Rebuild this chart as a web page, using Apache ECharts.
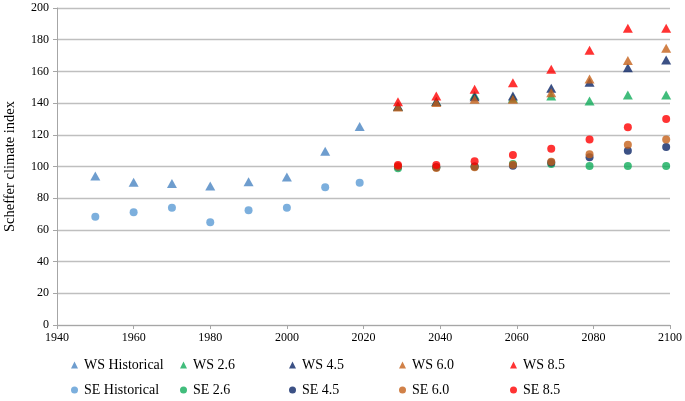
<!DOCTYPE html>
<html>
<head>
<meta charset="utf-8">
<script src="https://cdn.jsdelivr.net/npm/echarts@6/dist/echarts.min.js"></script>
<style>html,body{margin:0;padding:0;background:#fff}#c{width:685px;height:401px}</style>
</head>
<body>
<div id="c"></div>
<script>
// ---- data ----
const histYears = [1950, 1960, 1970, 1980, 1990, 2000, 2010, 2019];
const futYears = [2029, 2039, 2049, 2059, 2069, 2079, 2089, 2099];

const wsHistorical = [94, 90, 89.3, 87.7, 90.3, 93.3, 109.7, 125.2];
const seHistorical = [68.3, 71.1, 74, 64.8, 72.4, 74, 86.9, 89.8];

const ws26 = [138, 141, 145, 143, 144.5, 141.3, 145.1, 145.1];
const ws45 = [138, 141, 144, 144.5, 149.3, 153.1, 162.3, 167.2];
const ws60 = [137.5, 140.3, 142.4, 142.4, 146.6, 155.2, 166.8, 174.6];
const ws85 = [140.9, 144.5, 148.7, 152.9, 161.3, 173.3, 187.2, 187.2];

const se26 = [98.9, 99.5, 100, 101.5, 101.6, 100.3, 100.3, 100.3];
const se45 = [100, 99.5, 100, 100.5, 102.5, 105.8, 110, 112.3];
const se60 = [100, 99, 99.5, 101.1, 103, 107.7, 113.8, 117.1];
const se85 = [100.9, 100.9, 103.3, 107.3, 111.2, 117.1, 124.7, 130];

const xTicks = [1940, 1960, 1980, 2000, 2020, 2040, 2060, 2080, 2100];
const yTicks = [0, 20, 40, 60, 80, 100, 120, 140, 160, 180, 200];

// ---- styles ----
const FONT = 'Liberation Serif';
const colors = {
  'WS Historical': '#4a85c2', 'SE Historical': '#5b9bd5',
  'WS 2.6': '#12ad5b', 'SE 2.6': '#12ad5b',
  'WS 4.5': '#0b2566', 'SE 4.5': '#0b2566',
  'WS 6.0': '#c5621a', 'SE 6.0': '#c5621a',
  'WS 8.5': '#ff0000', 'SE 8.5': '#ff0000'
};

function pairs(xs, ys) { return xs.map((x, i) => [x, ys[i]]); }

const seriesDefs = [
  ['WS Historical', histYears, wsHistorical, 'triangle'],
  ['SE Historical', histYears, seHistorical, 'circle'],
  ['WS 2.6', futYears, ws26, 'triangle'],
  ['WS 4.5', futYears, ws45, 'triangle'],
  ['WS 6.0', futYears, ws60, 'triangle'],
  ['WS 8.5', futYears, ws85, 'triangle'],
  ['SE 2.6', futYears, se26, 'circle'],
  ['SE 4.5', futYears, se45, 'circle'],
  ['SE 6.0', futYears, se60, 'circle'],
  ['SE 8.5', futYears, se85, 'circle']
];

const series = seriesDefs.map(([name, xs, ys, sym]) => ({
  name: name,
  type: 'scatter',
  symbol: sym,
  symbolSize: sym === 'triangle' ? [10, 9] : 8,
  itemStyle: { color: colors[name] },
  data: pairs(xs, ys),
  animation: false
}));

const legendCols = [71, 180, 289, 399, 510];
const legendRows = [358, 383];
const legendNames = [
  ['WS Historical', 'WS 2.6', 'WS 4.5', 'WS 6.0', 'WS 8.5'],
  ['SE Historical', 'SE 2.6', 'SE 4.5', 'SE 6.0', 'SE 8.5']
];
const legends = [];
legendNames.forEach((row, r) => row.forEach((name, c) => {
  legends.push({
    data: [{ name: name, icon: r === 0 ? 'triangle' : 'circle' }],
    left: legendCols[c], top: legendRows[r],
    itemWidth: 7, itemHeight: 7, itemGap: 0,
    padding: 0,
    selectedMode: false,
    textStyle: { fontFamily: FONT, fontSize: 14, color: '#000', padding: [0, 0, 0, 1] }
  });
}));

const chart = echarts.init(document.getElementById('c'));
chart.setOption({
  backgroundColor: '#fff',
  animation: false,
  grid: { left: 57, right: 15, top: 8, bottom: 76, containLabel: false, outerBoundsMode: 'none' },
  xAxis: {
    type: 'value', min: xTicks[0], max: xTicks[xTicks.length - 1], interval: 20,
    axisLine: { show: true, lineStyle: { color: '#a6a6a6', width: 1 } },
    axisTick: { show: true, length: 4, lineStyle: { color: '#a6a6a6' } },
    splitLine: { show: false },
    axisLabel: { fontFamily: FONT, fontSize: 12, color: '#000', margin: 7, formatter: v => String(v) }
  },
  yAxis: {
    type: 'value', min: yTicks[0], max: yTicks[yTicks.length - 1], interval: 20,
    name: 'Scheffer climate index', nameLocation: 'middle', nameGap: 39,
    nameTextStyle: { fontFamily: FONT, fontSize: 14.5, color: '#000' },
    axisLine: { show: true, lineStyle: { color: '#a6a6a6', width: 1 } },
    axisTick: { show: true, length: 4, lineStyle: { color: '#a6a6a6' } },
    splitLine: { show: true, lineStyle: { color: '#bfbfbf', width: 1.3 } },
    axisLabel: { fontFamily: FONT, fontSize: 12, color: '#000', margin: 8, formatter: v => String(v) }
  },
  legend: legends,
  series: series
});
</script>
</body>
</html>
